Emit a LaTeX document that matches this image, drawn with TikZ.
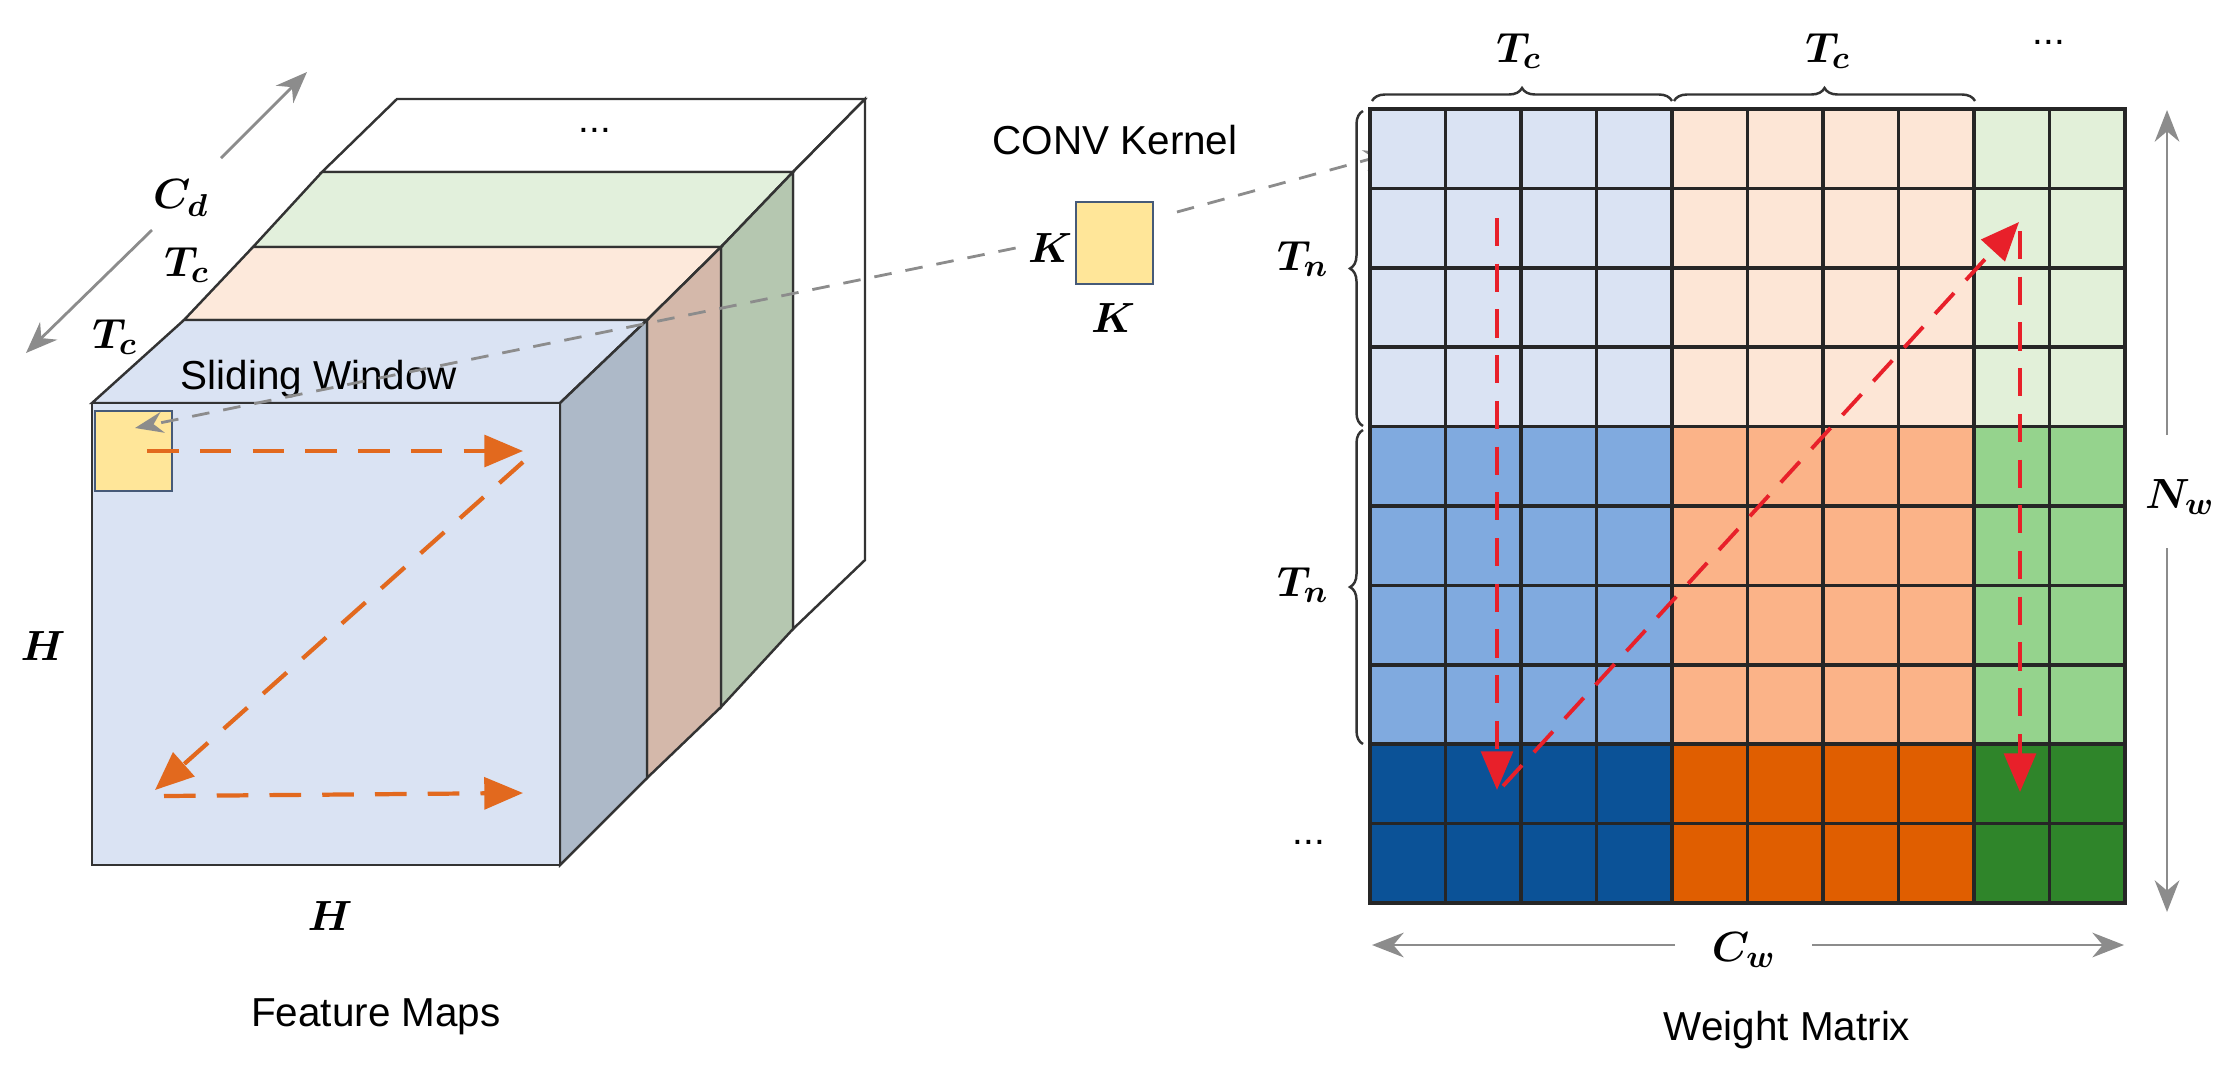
\documentclass[tikz,border=0pt]{standalone}
\usepackage{fontspec}
\usepackage{amsmath}
\usepackage{bm}
\setmainfont{Liberation Sans}
\usetikzlibrary{arrows.meta,decorations.pathreplacing}
\definecolor{lb}{HTML}{DAE3F3}\definecolor{mb}{HTML}{80AADF}\definecolor{db}{HTML}{0B5297}
\definecolor{lo}{HTML}{FDE6D6}\definecolor{mo}{HTML}{FBB388}\definecolor{do}{HTML}{E05E00}
\definecolor{lg}{HTML}{E2F0D9}\definecolor{mg}{HTML}{95D38D}\definecolor{dg}{HTML}{2F852A}
\definecolor{bside}{HTML}{ADB9C8}\definecolor{oside}{HTML}{D4B8AA}\definecolor{gside}{HTML}{B5C7B0}
\definecolor{otop}{HTML}{FDE9DB}\definecolor{gtop}{HTML}{E2F0DC}
\definecolor{yel}{HTML}{FFE699}\definecolor{arr}{HTML}{E2691E}\definecolor{redarr}{HTML}{E8202A}
\begin{document}
\begin{tikzpicture}[x=0.01cm,y=-0.01cm,
  face/.style={draw=black!80,line width=0.7pt},
  cell/.style={draw=black!85,line width=1pt},
  lbl/.style={font=\fontsize{11.5}{13}\selectfont},
  mth/.style={font=\fontsize{13}{15}\selectfont},
  garr/.style={draw=black!45,line width=0.8pt,-{Stealth[length=9pt,width=7pt]}},
  gdash/.style={draw=black!45,line width=0.8pt,dashed,dash pattern=on 5pt off 4pt,-{Stealth[length=8pt,width=6pt]}},
  oarr/.style={draw=arr,line width=1.2pt,dash pattern=on 9pt off 6pt,-{Triangle[length=11pt,width=9pt]}},
  rarr/.style={draw=redarr,line width=1.1pt,dash pattern=on 8pt off 5pt,-{Triangle[length=11pt,width=9pt]}},
  brc/.style={decorate,decoration={brace,amplitude=0.13cm},draw=black!80,line width=0.7pt}]
\useasboundingbox (0,0) rectangle (2228,1066);
% ---- cube ----
\filldraw[face,fill=white] (322,172)--(793,172)--(865,99)--(397,99)--cycle;
\filldraw[face,fill=white] (793,172)--(865,99)--(865,560)--(793,629)--cycle;
\filldraw[face,fill=gtop] (253,247)--(721,247)--(793,172)--(322,172)--cycle;
\filldraw[face,fill=gside] (721,247)--(793,172)--(793,629)--(721,707)--cycle;
\filldraw[face,fill=otop] (184,320)--(647,320)--(721,247)--(253,247)--cycle;
\filldraw[face,fill=oside] (647,320)--(721,247)--(721,707)--(647,778)--cycle;
\filldraw[face,fill=lb] (92,403)--(560,403)--(647,320)--(184,320)--cycle;
\filldraw[face,fill=bside] (560,403)--(647,320)--(647,778)--(560,865)--cycle;
\filldraw[face,fill=lb] (92,403) rectangle (560,865);
\node[draw={rgb,255:red,70;green,90;blue,120},line width=0.7pt,fill=yel,minimum width=0.77cm,minimum height=0.8cm,inner sep=0pt] (win) at (133.5,451) {};
\coordinate (wintip) at (135,428);
\node[font=\fontsize{11}{13}\selectfont] (dots1) at (595,130) {...};
\node[lbl] (slide) at (319,379) {Sliding Window};
\node[mth] (cd) at (181,198) {$\bm{C_d}$};
\node[mth] (tc1) at (187,265) {$\bm{T_c}$};
\node[mth] (tc2) at (115,337) {$\bm{T_c}$};
\node[mth] (h1) at (43,646) {$\bm{H}$};
\node[mth] (h2) at (330,916) {$\bm{H}$};
\node[lbl] (fm) at (376,1017) {Feature Maps};
\coordinate (cdA) at (221,158); \coordinate (cdB) at (307,72);
\coordinate (cdC) at (152,230); \coordinate (cdD) at (26,353);
\draw[garr] (cdA)--(cdB);
\draw[garr] (cdC)--(cdD);
\coordinate (o1) at (147,451); \coordinate (o2) at (523,451);
\coordinate (o3) at (523,462); \coordinate (o4) at (155,790);
\coordinate (o5) at (164,796); \coordinate (o6) at (523,793);
\draw[oarr] (o1)--(o2);
\draw[oarr] (o3)--(o4);
\draw[oarr] (o5)--(o6);
% ---- kernel ----
\node[lbl] (conv) at (1115,140) {CONV Kernel};
\node[draw={rgb,255:red,70;green,90;blue,120},line width=0.7pt,fill=yel,minimum width=0.77cm,minimum height=0.82cm,inner sep=0pt] (ker) at (1114.5,243) {};
\node[mth] (kl) at (1050,248) {$\bm{K}$};
\node[mth] (kb) at (1113,318) {$\bm{K}$};
\draw[gdash] (kl.west)--(wintip);
\coordinate (mtip) at (1392,153);
\draw[gdash] (1177,212)--(mtip);
% ---- matrix ----
\foreach \c in {0,...,9}{
  \foreach \r in {0,...,9}{
    \pgfmathsetmacro{\xa}{1370+75.5*\c}\pgfmathsetmacro{\ya}{109+79.4*\r}
    \ifnum\c<4 \def\hue{b}\else\ifnum\c<8 \def\hue{o}\else\def\hue{g}\fi\fi
    \ifnum\r<4 \def\sh{l}\else\ifnum\r<8 \def\sh{m}\else\def\sh{d}\fi\fi
    \filldraw[cell,fill=\sh\hue] (\xa,\ya) rectangle ++(75.5,79.4);
  }}
\draw[brc] (1372,101)--(1672,101);
\draw[brc] (1674,101)--(1975,101);
\draw[brc] (1363,426)--(1363,111);
\draw[brc] (1363,744)--(1363,430);
\node[mth] (tcm1) at (1519,51) {$\bm{T_c}$};
\node[mth] (tcm2) at (1828,51) {$\bm{T_c}$};
\node[font=\fontsize{11}{13}\selectfont] (dots2) at (2049,42) {...};
\node[mth] (tn1) at (1303,259) {$\bm{T_n}$};
\node[mth] (tn2) at (1303,585) {$\bm{T_n}$};
\node[font=\fontsize{11}{13}\selectfont] (dots3) at (1309,842) {...};
\node[mth] (nw) at (2180,497) {$\bm{N_w}$};
\node[mth] (cw) at (1744,950) {$\bm{C_w}$};
\node[lbl] (wm) at (1787,1030) {Weight Matrix};
\coordinate (nwt) at (2167,110); \coordinate (nwb) at (2167,912);
\draw[garr] (2167,435)--(nwt);
\draw[garr] (2167,548)--(nwb);
\coordinate (cwl) at (1372,945); \coordinate (cwr) at (2124,945);
\draw[garr] (1675,945)--(cwl);
\draw[garr] (1812,945)--(cwr);
\coordinate (r1) at (1497,218); \coordinate (r2) at (1497,790);
\coordinate (r3) at (1503,786); \coordinate (r4) at (2019,222);
\coordinate (r5) at (2020,231); \coordinate (r6) at (2020,792);
\draw[rarr] (r1)--(r2);
\draw[rarr] (r3)--(r4);
\draw[rarr] (r5)--(r6);
\end{tikzpicture}
\end{document}
